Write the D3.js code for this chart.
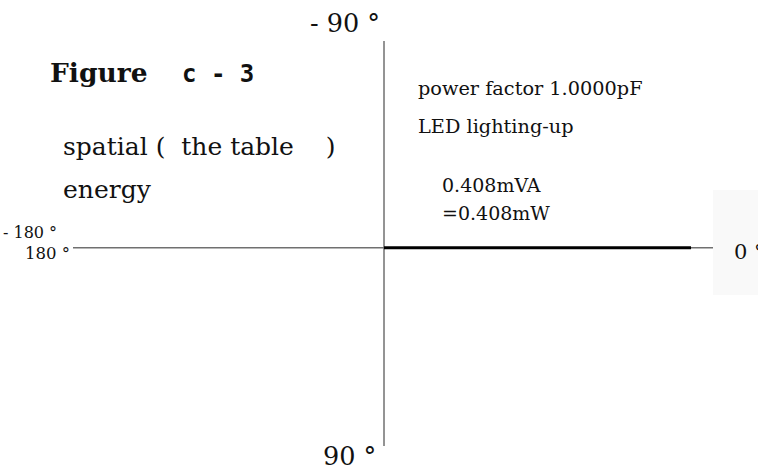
<!DOCTYPE html>
<html>
<head>
<meta charset="utf-8">
<script src="https://cdn.jsdelivr.net/npm/d3@7"></script>
<style>
  html, body { margin: 0; padding: 0; background: #fff; }
  svg { display: block; }
  text { font-family: "DejaVu Serif", "Liberation Serif", serif; fill: #111; white-space: pre; }
</style>
</head>
<body>
<svg id="chart" width="758" height="468"></svg>
<script>
// Phasor: apparent power of the LED load, drawn as a vector at its phase angle
const phasorMagnitudes = [0.408];          // mVA
const phasorAngles = [0];                  // degrees
// Axis extents in mVA (real, imaginary)
const realExtent = [-0.4133, 0.4372];
const imagExtent = [-0.274, 0.263];
// Angle labels at the axis ends
const angleLabels = ["0 °", "- 90 °", "90 °", "- 180 °", "180 °"];
const titleParts = ["Figure", "c - 3"];
const subtitleLines = ["spatial (  the table    )", "energy"];
const noteLines = ["power factor 1.0000pF", "LED lighting-up"];
const valueLines = ["0.408mVA", "=0.408mW"];

const svg = d3.select("#chart");

const x = d3.scaleLinear().domain(realExtent).range([73, 713]);
const y = d3.scaleLinear().domain(imagExtent).range([41, 446]);

// faint panel behind the 0° label
svg.append("rect")
  .attr("x", 713).attr("y", 190).attr("width", 45).attr("height", 105)
  .attr("fill", "#f9f9f9");

// real and imaginary axes
svg.append("line")
  .attr("x1", x(realExtent[0])).attr("x2", x(realExtent[1]))
  .attr("y1", y(0)).attr("y2", y(0))
  .attr("stroke", "#707070").attr("stroke-width", 1.5);
svg.append("line")
  .attr("x1", x(0)).attr("x2", x(0))
  .attr("y1", y(imagExtent[0])).attr("y2", y(imagExtent[1]))
  .attr("stroke", "#707070").attr("stroke-width", 1.5);

// phasor vectors
svg.selectAll("line.phasor")
  .data(phasorMagnitudes.map((m, i) => ({ m, a: phasorAngles[i] })))
  .join("line")
  .attr("class", "phasor")
  .attr("x1", x(0)).attr("y1", y(0))
  .attr("x2", d => x(d.m * Math.cos(d.a * Math.PI / 180)))
  .attr("y2", d => y(d.m * Math.sin(d.a * Math.PI / 180)))
  .attr("stroke", "#000").attr("stroke-width", 3);

// angle labels
const angPos = [
  { x: 734, y: 259, size: 21 },
  { x: 310, y: 32, size: 25.5 },
  { x: 323, y: 465, size: 25.5 },
  { x: 3, y: 238, size: 16 },
  { x: 25, y: 259, size: 16.5 }
];
svg.selectAll("text.angle")
  .data(angleLabels)
  .join("text")
  .attr("class", "angle")
  .attr("x", (d, i) => angPos[i].x)
  .attr("y", (d, i) => angPos[i].y)
  .attr("font-size", (d, i) => angPos[i].size)
  .text(d => d);

// title
const title = svg.append("text").attr("x", 50).attr("y", 82)
  .attr("font-size", 26.5).attr("font-weight", "bold");
title.append("tspan").text(titleParts[0]);
title.append("tspan").attr("x", 182).attr("font-size", 24)
  .style("font-family", "'DejaVu Sans Mono', monospace").text(titleParts[1]);

svg.selectAll("text.sub")
  .data(subtitleLines)
  .join("text")
  .attr("class", "sub")
  .attr("x", 63)
  .attr("y", (d, i) => 155 + i * 43)
  .attr("font-size", 25)
  .text(d => d);

svg.selectAll("text.note")
  .data(noteLines)
  .join("text")
  .attr("class", "note")
  .attr("x", 418)
  .attr("y", (d, i) => 95 + i * 38)
  .attr("font-size", 19.3)
  .text(d => d);

svg.selectAll("text.val")
  .data(valueLines)
  .join("text")
  .attr("class", "val")
  .attr("x", 442)
  .attr("y", (d, i) => 192 + i * 28)
  .attr("font-size", 19)
  .text(d => d);
</script>
</body>
</html>
